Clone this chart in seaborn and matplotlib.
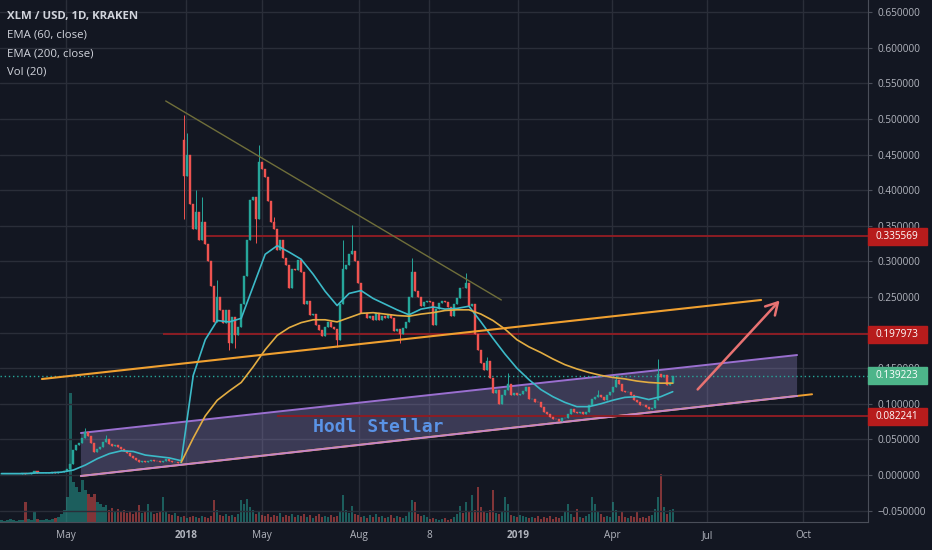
import matplotlib
matplotlib.use('Agg')
from matplotlib import pyplot as plt
from matplotlib.patches import Polygon, Rectangle, FancyArrowPatch
from matplotlib.ticker import FuncFormatter, MultipleLocator
import matplotlib.transforms as mtransforms
import numpy as np
import pandas as pd
import seaborn as sns

# XLM/USD (Kraken) - one candle every ~3 days, closes
closes = [
    0.002, 0.002, 0.002, 0.002, 0.002, 0.002, 0.002, 0.003, 0.002, 0.002,
    0.003, 0.005, 0.003, 0.003, 0.003, 0.003, 0.003, 0.004, 0.003, 0.004,
    0.004, 0.005, 0.008, 0.015, 0.035, 0.042, 0.045, 0.052, 0.060, 0.055,
    0.045, 0.033, 0.036, 0.040, 0.047, 0.050, 0.044, 0.041, 0.042, 0.040,
    0.036, 0.034, 0.031, 0.027, 0.024, 0.021, 0.018, 0.019, 0.018, 0.020,
    0.021, 0.020, 0.019, 0.018, 0.020, 0.022, 0.020, 0.018, 0.018, 0.017,
    0.018, 0.420, 0.450, 0.380, 0.345, 0.370, 0.330, 0.355, 0.325, 0.300,
    0.265, 0.215, 0.250, 0.232, 0.213, 0.232, 0.185, 0.222, 0.196, 0.208,
    0.240, 0.280, 0.330, 0.386, 0.390, 0.360, 0.440, 0.430, 0.418, 0.385,
    0.355, 0.345, 0.316, 0.330, 0.305, 0.295, 0.262, 0.290, 0.288, 0.302,
    0.285, 0.240, 0.245, 0.225, 0.226, 0.210, 0.204, 0.195, 0.208, 0.215,
    0.208, 0.205, 0.190, 0.240, 0.290, 0.295, 0.310, 0.315, 0.300, 0.270,
    0.227, 0.228, 0.220, 0.223, 0.218, 0.228, 0.218, 0.224, 0.220, 0.225,
    0.220, 0.202, 0.205, 0.198, 0.206, 0.215, 0.250, 0.285, 0.258, 0.250,
    0.238, 0.243, 0.244, 0.243, 0.210, 0.233, 0.242, 0.244, 0.243, 0.236,
    0.224, 0.240, 0.248, 0.263, 0.262, 0.270, 0.238, 0.240, 0.198, 0.175,
    0.157, 0.147, 0.160, 0.136, 0.115, 0.119, 0.100, 0.112, 0.119, 0.128,
    0.113, 0.115, 0.112, 0.114, 0.118, 0.123, 0.107, 0.107, 0.103, 0.102,
    0.095, 0.089, 0.085, 0.081, 0.079, 0.078, 0.076, 0.080, 0.080, 0.085,
    0.092, 0.089, 0.087, 0.088, 0.086, 0.088, 0.099, 0.107, 0.110, 0.113,
    0.109, 0.106, 0.112, 0.117, 0.123, 0.133, 0.128, 0.118, 0.116, 0.116,
    0.112, 0.106, 0.103, 0.099, 0.098, 0.096, 0.092, 0.094, 0.105, 0.142,
    0.138, 0.140, 0.126, 0.129, 0.139,
]

volume = [
    2, 1, 2, 3, 2, 1, 2, 2, 20, 3,
    2, 10, 3, 2, 2, 3, 2, 3, 4, 5,
    8, 12, 25, 129, 40, 35, 30, 42, 32, 28,
    25, 28, 20, 18, 15, 17, 12, 14, 11, 13,
    10, 12, 9, 10, 8, 11, 17, 9, 10, 18,
    10, 8, 9, 10, 25, 10, 8, 7, 9, 6,
    5, 6, 4, 5, 6, 5, 4, 6, 5, 4,
    6, 22, 12, 7, 6, 8, 6, 7, 5, 8,
    22, 18, 23, 15, 12, 8, 10, 7, 6, 8,
    5, 7, 6, 9, 5, 7, 6, 8, 5, 7,
    6, 8, 5, 7, 4, 6, 8, 5, 6, 5,
    7, 5, 6, 10, 27, 12, 9, 16, 8, 7,
    5, 6, 4, 7, 5, 8, 5, 6, 4, 5,
    7, 4, 6, 5, 4, 6, 10, 22, 20, 8,
    6, 7, 5, 3, 4, 3, 2, 3, 4, 2,
    3, 5, 8, 16, 9, 20, 10, 27, 12, 35,
    15, 10, 9, 12, 32, 9, 8, 10, 25, 18,
    7, 6, 5, 7, 6, 5, 4, 5, 4, 6,
    3, 5, 4, 6, 3, 5, 4, 6, 10, 18,
    8, 5, 13, 5, 4, 6, 8, 25, 18, 10,
    8, 5, 6, 5, 20, 12, 6, 10, 5, 4,
    6, 5, 10, 4, 5, 4, 6, 7, 13, 25,
    48, 15, 8, 12, 13,
]

# the January 2018 candle opens on a gap
gap_open = {61: 0.47}

# long wicks worth drawing (bar -> price)
spike_high = {28: 0.066, 35: 0.056, 61: 0.505, 62: 0.48, 65: 0.40, 67: 0.39,
              72: 0.274, 86: 0.463, 91: 0.362, 114: 0.33, 117: 0.351,
              137: 0.305, 155: 0.283, 162: 0.166, 169: 0.143, 199: 0.12,
              205: 0.14, 219: 0.163}
spike_low = {61: 0.36, 76: 0.175, 78: 0.178, 85: 0.326, 112: 0.18, 133: 0.185}

# EMA values, one every 4 candles
ema60 = [0.002, 0.002, 0.002, 0.003, 0.003, 0.004, 0.007, 0.014, 0.023, 0.030,
         0.034, 0.033, 0.028, 0.026, 0.024, 0.020, 0.140, 0.190, 0.217, 0.215,
         0.220, 0.265, 0.310, 0.322, 0.313, 0.303, 0.282, 0.258, 0.238, 0.255,
         0.259, 0.248, 0.240, 0.232, 0.225, 0.233, 0.236, 0.233, 0.234, 0.237,
         0.215, 0.192, 0.170, 0.150, 0.134, 0.120, 0.110, 0.102, 0.096, 0.096,
         0.100, 0.105, 0.109, 0.110, 0.106, 0.110, 0.117]
ema200 = [np.nan] * 15 + [
         0.018, 0.052, 0.083, 0.105, 0.118,
         0.130, 0.152, 0.176, 0.196, 0.207, 0.214, 0.218, 0.218, 0.215, 0.221,
         0.227, 0.228, 0.226, 0.224, 0.223, 0.226, 0.228, 0.231, 0.232, 0.232,
         0.226, 0.217, 0.205, 0.190, 0.180, 0.172, 0.163, 0.155, 0.149, 0.144,
         0.140, 0.137, 0.135, 0.132, 0.130, 0.129, 0.129]

month_ticks = [21.5, 61.5, 86.8, 119.2, 142.8, 172.5, 203.8, 235.5, 267.5]
month_labels = ['May', '2018', 'May', 'Aug', '8', '2019', 'Apr', 'Jul', 'Oct']

levels = [0.335569, 0.197973, 0.082241]
level_from = [67.8, 53.8, 91.8]
last_price = 0.139223

# drawings (bar, price)
down_line = [(54.8, 0.5253), (166.8, 0.2458)]
orange_line = [(13.5, 0.1348), (253.5, 0.2458)]
support_line = [(26.5, -0.0014), (270.5, 0.1134)]
channel_top = [(26.5, 0.059), (265.5, 0.1685)]
channel_bottom = [(26.5, -0.0014), (265.5, 0.111)]
arrow = [(231.7, 0.1173), (260.3, 0.2479)]

BG = '#131722'
GRID = '#2a2e39'
TXT = '#b2b5be'
UP = '#26a69a'
DOWN = '#ef5350'

sns.set_style('dark', {'axes.facecolor': BG, 'figure.facecolor': BG})
plt.rcParams['font.family'] = ['Open Sans', 'DejaVu Sans']

fig = plt.figure(figsize=(9.32, 5.5), dpi=100, facecolor=BG)
axv = fig.add_axes([0, 28 / 550, 868 / 932, 522 / 550])
axv.set_facecolor(BG)
ax = axv.twinx()

closes = np.array(closes)
opens = np.r_[closes[0], closes[:-1]]
for k, v in gap_open.items():
    opens[k] = v
bars = np.arange(len(closes))
colors = np.where(closes >= opens, UP, DOWN)
highs = np.maximum(opens, closes)
lows = np.minimum(opens, closes)
for k, v in spike_high.items():
    highs[k] = v
for k, v in spike_low.items():
    lows[k] = v

# volume underneath
vol_colors = [(0.15, 0.65, 0.6, 0.5) if c == UP else (0.94, 0.33, 0.31, 0.5) for c in colors]
axv.bar(bars, volume, width=0.75, color=vol_colors, linewidth=0)
vmax = max(volume)
axv.set_ylim(0, vmax * 4.05)
axv.set_yticks([])
axv.set_xlim(-0.5, 289.17)
axv.set_xticks(month_ticks, month_labels)
axv.tick_params(axis='x', length=0, pad=6, labelsize=7.2, labelcolor=TXT)
for lab in axv.get_xticklabels():
    if lab.get_text() in ('2018', '2019'):
        lab.set_fontweight('bold')
axv.grid(axis='x', color=GRID, lw=1)
axv.grid(axis='y', visible=False)
axv.set_axisbelow(True)


def price_fmt(v, pos):
    # the 0.2 label sits fully under the 0.197973 tag
    if abs(v - 0.2) < 1e-9:
        return ''
    return f'{v:.6f}'.replace('-', '\u2212')


# price pane
ax.set_ylim(-0.066, 0.6671)
ax.yaxis.set_major_locator(MultipleLocator(0.05))
ax.yaxis.set_major_formatter(FuncFormatter(price_fmt))
ax.tick_params(axis='y', length=3, color='#4a4e59', labelcolor=TXT, labelsize=7.2, pad=4)
ax.grid(axis='y', color=GRID, lw=1)
ax.grid(axis='x', visible=False)
ax.set_axisbelow(True)
for a in (ax, axv):
    for s in a.spines.values():
        s.set_visible(False)
ax.spines['right'].set_visible(True)
ax.spines['right'].set_color('#4a4e59')
axv.spines['bottom'].set_visible(True)
axv.spines['bottom'].set_color('#4a4e59')

# channel
poly = Polygon(channel_top + channel_bottom[::-1], closed=True,
               facecolor=(0.6, 0.55, 0.8, 0.3), edgecolor='none', zorder=1)
ax.add_patch(poly)
ax.plot(*zip(*support_line), color='#f0a030', lw=1.4, zorder=2)
ax.plot(*zip(*channel_bottom), color='#c585c9', lw=1.4, zorder=2)
ax.plot(*zip(*channel_top), color='#9a6fd0', lw=1.4, zorder=2)

# horizontal levels
for lvl, x0 in zip(levels, level_from):
    ax.hlines(lvl, x0, 289.17, color='#8c1d24', lw=1.4, zorder=2)
ax.axhline(last_price, color=UP, lw=1, ls=(0, (1, 2)), zorder=2)

# candles
ax.vlines(bars, lows, highs, colors=colors, lw=0.7, zorder=3)
ax.bar(bars, closes - opens, bottom=opens, width=0.7, color=colors,
       edgecolor=colors, linewidth=0.3, zorder=4)

# moving averages
df_ema = pd.DataFrame({'bar': np.arange(len(ema60)) * 4, 'ema60': ema60, 'ema200': ema200})
sns.lineplot(data=df_ema, x='bar', y='ema60', ax=ax, color='#3cbac8', lw=1.2, zorder=5)
sns.lineplot(data=df_ema, x='bar', y='ema200', ax=ax, color='#e3ad42', lw=1.2, zorder=5)
ax.set_xlabel('')
ax.set_ylabel('')
axv.set_xlabel('')
axv.set_ylabel('')

# other drawings
ax.plot(*zip(*down_line), color='#6f6e3a', lw=1, zorder=6)
ax.plot(*zip(*orange_line), color='#f0a030', lw=1.5, zorder=6)
ax.add_patch(FancyArrowPatch(arrow[0], arrow[1], arrowstyle='->,head_length=0.7,head_width=0.4',
                             mutation_scale=12, color='#e87272', lw=1.8, zorder=6))
ax.text(125.8, 0.0674, 'Hodl Stellar', family='DejaVu Sans Mono', fontweight='bold',
        fontsize=13, color='#5a93e6', ha='center', va='center', zorder=7)

# price tags on the right axis
tr = mtransforms.blended_transform_factory(ax.transAxes, ax.transData)
h = 17 / 712
for lvl, col in zip(levels + [last_price], ['#b71c1c'] * 3 + ['#4db58a']):
    ax.add_patch(Rectangle((1.0, lvl - h / 2), 0.068, h, transform=tr, color=col,
                           clip_on=False, zorder=10))
    ax.text(1.009, lvl, f'{lvl:.6f}', transform=tr, va='center', ha='left',
            color='white', fontsize=7.2, zorder=11, clip_on=False)

# legend block
fig.text(7 / 932, 1 - 17 / 550, 'XLM / USD, 1D, KRAKEN', fontsize=8.2,
         fontweight='bold', color='#d1d4dc', va='center')
for i, t in enumerate(['EMA (60, close)', 'EMA (200, close)', 'Vol (20)']):
    fig.text(7 / 932, 1 - (35 + 18.5 * i) / 550, t, fontsize=8.2, color='#d1d4dc', va='center')

fig.savefig('out.png', dpi=100, facecolor=BG)
